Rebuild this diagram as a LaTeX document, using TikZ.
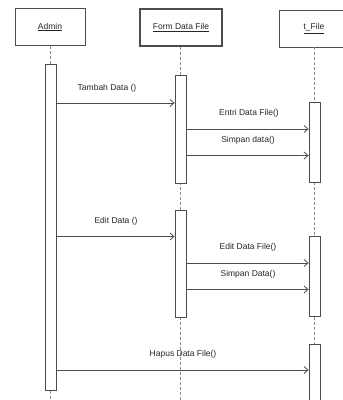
\documentclass[tikz,border=0pt]{standalone}
\usepackage{fontspec}
\setmainfont{Liberation Sans}
\usetikzlibrary{arrows.meta}
\begin{document}
\begin{tikzpicture}[x=1pt,y=-1pt,
  every node/.style={font=\fontsize{8.5}{10}\selectfont, text=black!85},
  head/.style={draw=black!70, line width=0.9pt, minimum height=37pt, inner sep=0pt, font=\fontsize{8.5}{10}\selectfont},
  act/.style={draw=black!70, line width=0.8pt, fill=white, minimum width=11pt, inner sep=0pt, anchor=north},
  life/.style={draw=black!45, dashed, dash pattern=on 3pt off 2pt, line width=0.7pt},
  msg/.style={draw=black!70, line width=0.8pt, -{Straight Barb[length=4pt,width=7pt]}},
  lbl/.style={inner sep=1pt}
]
\useasboundingbox (0,0) rectangle (343,400);
\fill[white] (0,0) rectangle (343,400);

% headers
\node[head, minimum width=70pt] (hA) at (50,27) {\underline{Admin}};
\node[head, minimum width=82pt, line width=1.1pt] (hF) at (181,27.5) {\underline{Form Data File}};
\node[head, minimum width=70pt] (hT) at (314,28.5) {\underline{t\_File}};

% lifelines
\coordinate (eA) at (50,400);
\coordinate (eF) at (180.5,400);
\coordinate (eT) at (314.5,400);
\draw[life] (hA.south) -- (eA);
\draw[life] (hF.south -| eF) -- (eF);
\draw[life] (hT.south -| eT) -- (eT);

% activations
\node[act, minimum height=326pt] (aA) at (50.5,64) {};
\node[act, minimum height=108pt] (f1) at (180.5,75) {};
\node[act, minimum height=107pt] (f2) at (180.5,210) {};
\node[act, minimum height=80pt] (t1) at (314.5,102) {};
\node[act, minimum height=80pt] (t2) at (314.5,236) {};
\node[act, minimum height=70pt] (t3) at (314.5,344) {};

% messages
\draw[msg] (aA.east |- 0,103) -- (f1.west |- 0,103);
\node[lbl] (m1) at (107,88) {Tambah Data ()};
\draw[msg] (f1.east |- 0,129) -- (t1.west |- 0,129);
\node[lbl] (m2) at (249,113) {Entri Data File()};
\draw[msg] (f1.east |- 0,155.5) -- (t1.west |- 0,155.5);
\node[lbl] (m3) at (248,140) {Simpan data()};

\draw[msg] (aA.east |- 0,236.5) -- (f2.west |- 0,236.5);
\node[lbl] (m4) at (116,221) {Edit Data ()};
\draw[msg] (f2.east |- 0,263) -- (t2.west |- 0,263);
\node[lbl] (m5) at (248,247) {Edit Data File()};
\draw[msg] (f2.east |- 0,289.5) -- (t2.west |- 0,289.5);
\node[lbl] (m6) at (248,274) {Simpan Data()};

\draw[msg] (aA.east |- 0,370) -- (t3.west |- 0,370);
\node[lbl] (m7) at (183,354) {Hapus Data File()};
\end{tikzpicture}
\end{document}
